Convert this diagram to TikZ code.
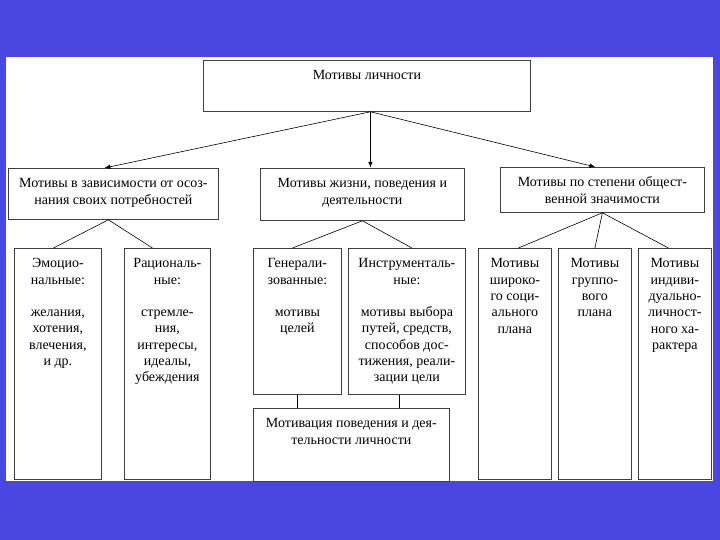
\documentclass[tikz,border=0pt]{standalone}
\usepackage{fontspec}
\setmainfont{Liberation Serif}
\usetikzlibrary{arrows.meta}
\definecolor{slideblue}{RGB}{74,70,226}
\tikzset{box/.style={draw=black!75,line width=0.8pt,inner sep=0pt,anchor=north west,fill=white},arrow/.style={-{Latex[length=6pt,width=4.5pt]},line width=0.6pt},link/.style={line width=0.6pt},txt/.style={font=\fontsize{14}{16.3}\selectfont}}
\newcommand{\cell}[3]{\parbox[c][#2pt][t]{#1pt}{\centering\vspace*{8pt}\strut#3}}

\begin{document}
\begin{tikzpicture}[x=1pt,y=-1pt,txt]
\fill[slideblue] (0,0) rectangle (720,540);
\fill[white] (6,57) rectangle (713,481);
\node[box] (top) at (203,60) {\cell{327}{51}{Мотивы личности}};
\node[box] (consc) at (8,168) {\cell{210}{51}{Мотивы в зависимости от осоз-\\нания своих потребностей}};
\node[box] (life) at (260,168) {\cell{204}{52}{Мотивы жизни, поведения и\\деятельности}};
\node[box] (social) at (500,167) {\cell{204}{45}{Мотивы по степени общест-\\венной значимости}};
\node[box] (emo) at (14,248) {\cell{87}{231}{Эмоцио-\\нальные:\\[16pt]желания,\\хотения,\\влечения,\\и др.}};
\node[box] (rat) at (124,248) {\cell{86}{231}{Рациональ-\\ные:\\[16pt]стремле-\\ния,\\интересы,\\идеалы,\\убеждения}};
\node[box] (gen) at (253,248) {\cell{88}{146}{Генерали-\\зованные:\\[16pt]мотивы\\целей}};
\node[box] (instr) at (348,248) {\cell{117}{146}{Инструменталь-\\ные:\\[16pt]мотивы выбора\\путей, средств,\\способов дос-\\тижения, реали-\\зации цели}};
\node[box] (motiv) at (253,408) {\cell{196}{73}{Мотивация поведения и дея-\\тельности личности}};
\node[box] (wide) at (478,248) {\cell{73}{231}{Мотивы\\широко-\\го соци-\\ального\\плана}};
\node[box] (group) at (558,248) {\cell{73}{231}{Мотивы\\группо-\\вого\\плана}};
\node[box] (indiv) at (638,248) {\cell{73}{231}{Мотивы\\индиви-\\дуально-\\личност-\\ного ха-\\рактера}};
\coordinate (hub) at ([xshift=3.5pt]top.south);
\coordinate (ilink) at ([xshift=-8pt]instr.south);
\draw[arrow] (hub) -- ([xshift=-9pt]consc.north);
\draw[arrow,line width=1.2pt] (hub) -- (hub |- life.north);
\draw[arrow] (hub) -- ([xshift=-7pt]social.north);
\draw[link] ([xshift=-5pt]consc.south) -- ([xshift=-4.5pt]emo.north);
\draw[link] ([xshift=-5pt]consc.south) -- ([xshift=-15pt]rat.north);
\draw[link] (life.south) -- ([xshift=-5pt]gen.north);
\draw[link] (life.south) -- ([xshift=5pt]instr.north);
\draw[link] (social.south) -- ([xshift=3.5pt]wide.north);
\draw[link] (social.south) -- (group.north);
\draw[link] (social.south) -- ([xshift=-6.5pt]indiv.north);
\draw[link] (gen.south) -- (gen.south |- motiv.north);
\draw[link] (ilink) -- (ilink |- motiv.north);
\end{tikzpicture}
\end{document}
